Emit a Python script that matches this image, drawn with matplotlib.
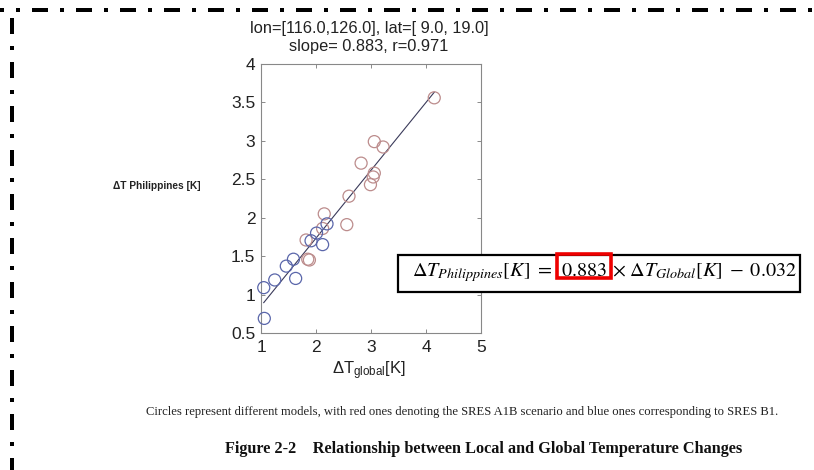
import matplotlib
matplotlib.use("Agg")
import matplotlib.pyplot as plt
from matplotlib.lines import Line2D
from matplotlib.patches import Rectangle
import numpy as np

plt.rcParams['lines.scale_dashes'] = False
plt.rcParams['mathtext.fontset'] = 'stix'

# ---- data ----
a1b_x = [4.15, 3.06, 3.22, 2.82, 3.06, 3.04, 2.99, 2.60, 2.56, 2.15, 2.12, 1.82, 1.85, 1.88]
a1b_y = [3.56, 2.99, 2.92, 2.71, 2.58, 2.53, 2.43, 2.28, 1.91, 2.05, 1.86, 1.71, 1.46, 1.45]
b1_x = [2.20, 2.01, 1.91, 2.12, 1.59, 1.46, 1.63, 1.25, 1.05, 1.06]
b1_y = [1.92, 1.80, 1.70, 1.65, 1.46, 1.37, 1.21, 1.19, 1.09, 0.69]
slope = 0.883
intercept = -0.032
r_value = 0.971
fit_x = [1.05, 4.15]
xticks = [1, 2, 3, 4, 5]
yticks = [0.5, 1, 1.5, 2, 2.5, 3, 3.5, 4]

W, H = 814, 470
fig = plt.figure(figsize=(W / 100, H / 100), dpi=100)
fig.patch.set_facecolor('white')

def fx(px):
    return px / W

def fy(py):
    return 1 - py / H

ax = fig.add_axes([fx(261), fy(333), fx(481) - fx(261), fy(64) - fy(333)])
ax.scatter(a1b_x, a1b_y, s=75, facecolors='none', edgecolors='#bc8c8c', linewidths=0.9,
           zorder=3, clip_on=False)
ax.scatter(b1_x, b1_y, s=75, facecolors='none', edgecolors='#5a66aa', linewidths=0.9,
           zorder=3, clip_on=False)
fx_arr = np.array(fit_x)
ax.plot(fx_arr, slope * fx_arr + intercept, color='#3a3a5a', lw=0.8, zorder=2)
ax.set_xlim(1, 5)
ax.set_ylim(0.5, 4)
ax.set_xticks(xticks)
ax.set_yticks(yticks)
ax.set_xticklabels([str(t) for t in xticks])
ax.set_yticklabels([('%g' % t) for t in yticks])
ax.tick_params(direction='in', length=3, width=0.6, color='#777777', labelsize=12.5,
               labelcolor='#222222', top=True, right=True)
ax.tick_params(axis='y', pad=4)
ax.tick_params(axis='x', pad=5)
for lab in ax.get_xticklabels() + ax.get_yticklabels():
    lab.set_family('Liberation Sans')
for s in ax.spines.values():
    s.set_color('#888888')
    s.set_linewidth(0.8)

# title
fig.text(fx(369), fy(29), 'lon=[116.0,126.0], lat=[ 9.0, 19.0]', ha='center', va='center',
         fontsize=11.8, family='Liberation Sans', color='#222222')
fig.text(fx(369), fy(46.5), 'slope= %.3f, r=%.3f' % (slope, r_value), ha='center', va='center',
         fontsize=11.8, family='Liberation Sans', color='#222222')

# y label
fig.text(fx(113), fy(186), r'ΔT Philippines [K]', ha='left', va='center',
         fontsize=7.3, family='Liberation Sans', fontweight='bold', color='#222222')

# x label
fig.text(fx(369), fy(371), r'$\mathregular{\Delta T_{global}[K]}$', ha='center', va='center',
         fontsize=12, family='Liberation Sans', color='#222222')

# captions
fig.text(fx(462), fy(412), 'Circles represent different models, with red ones denoting the SRES A1B scenario and blue ones corresponding to SRES B1.',
         ha='center', va='center', fontsize=9.1, family='Liberation Serif', color='#222222')
fig.text(fx(484), fy(449), 'Figure 2-2    Relationship between Local and Global Temperature Changes',
         ha='center', va='center', fontsize=11.7, family='Liberation Serif', fontweight='bold', color='#111111')

# equation box
box = Rectangle((fx(398), fy(292)), fx(800) - fx(398), fy(255) - fy(292), transform=fig.transFigure,
                facecolor='white', edgecolor='black', lw=1.6, zorder=5)
fig.add_artist(box)
fig.canvas.draw()
renderer = fig.canvas.get_renderer()
parts = [r'$\Delta T_{Philippines}[K]\ =$', r'$\mathrm{%.3f}$' % slope,
         r'$\times\ \Delta T_{Global}[K]\;-\;\mathrm{%.3f}$' % abs(intercept)]
gaps = [9, 5, 0]
x_cur = 412
texts = []
for i, p in enumerate(parts):
    t = fig.text(fx(x_cur), fy(276), p, ha='left', va='baseline', fontsize=14.5, zorder=6)
    texts.append(t)
    fig.canvas.draw()
    bb = t.get_window_extent(renderer)
    x_cur = bb.x1 + gaps[i]
bb_num = texts[1].get_window_extent(renderer)
red = Rectangle((bb_num.x0 - 4, fy(278) * H), bb_num.width + 8, 24, transform=None,
                facecolor='none', edgecolor='#ee0000', lw=2.6, zorder=7)
fig.add_artist(red)

# dash-dot border
px = 0.72
pattern_top = (12 * px, (16 * px, 12 * px, 4 * px, 12 * px))
pattern_left = (0, (16 * px, 12 * px, 4 * px, 12 * px))
fig.add_artist(Line2D([fx(0), fx(814)], [fy(10), fy(10)], transform=fig.transFigure,
                      color='black', lw=4 * px, linestyle=pattern_top))
fig.add_artist(Line2D([fx(11.5), fx(11.5)], [fy(18), fy(470)], transform=fig.transFigure,
                      color='black', lw=4 * px, linestyle=pattern_left))

fig.savefig('out.png', dpi=100, facecolor='white')
